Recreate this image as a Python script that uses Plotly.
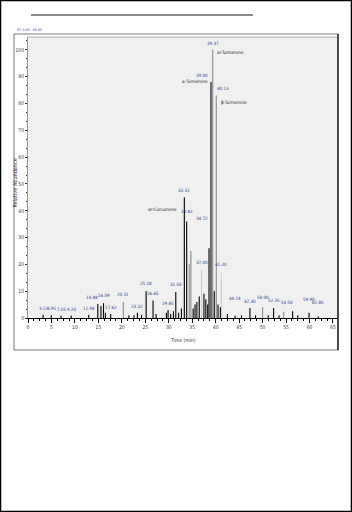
import plotly.graph_objects as go

# ---------------- data ----------------
black_rt = [3.22, 4.95, 7.05, 9.20, 12.94, 14.88, 15.55, 16.09, 16.50, 17.62, 21.50, 22.60,
            23.32, 24.20, 25.18, 26.65, 27.30, 29.50, 29.85, 30.40, 31.00, 31.50, 32.10,
            32.70, 33.32, 33.82, 35.20, 35.60, 36.00, 36.50, 37.50, 37.90, 38.30, 38.58,
            39.00, 39.70, 40.50, 41.00, 42.50, 44.14, 45.50, 47.30, 48.50, 51.20, 52.35,
            53.50, 56.40, 57.50, 59.90, 61.85]
black_h = [1.2, 1.0, 0.8, 0.9, 1.2, 5.2, 4.5, 5.5, 2.0, 1.5, 1.0, 1.0,
           2.0, 1.2, 10.0, 6.5, 1.5, 2.0, 3.0, 1.5, 2.5, 9.7, 2.0,
           3.5, 45.0, 36.0, 3.5, 5.0, 6.0, 8.0, 9.0, 7.0, 5.0, 26.0,
           88.0, 10.0, 5.0, 4.0, 1.5, 0.8, 1.0, 3.7, 1.0, 1.0, 3.7,
           1.0, 2.5, 1.0, 2.0, 0.6]
gray_rt = [20.31, 34.35, 34.72, 39.37, 40.13, 50.00, 54.50]
gray_h = [6.0, 20.0, 25.0, 100.0, 83.0, 4.0, 2.3]
light_rt = [37.00, 41.20]
light_h = [18.0, 17.0]

label_rt = [3.22, 4.95, 7.05, 9.20, 12.94, 14.88, 16.09, 17.62, 20.31, 23.32, 25.18,
            26.65, 29.85, 31.50, 33.82, 34.72, 37.00, 41.20, 44.14, 47.30, 50.00,
            52.35, 54.50, 59.90, 61.85]
label_h = [1.2, 1.0, 0.8, 0.9, 1.2, 5.2, 5.5, 1.5, 6.0, 2.0, 10.0,
           6.5, 3.0, 9.7, 36.0, 25.0, 18.0, 17.0, 0.8, 3.7, 4.0,
           3.7, 2.3, 2.0, 0.6]

name_rt = [33.32, 39.00, 39.37, 40.13]
name_h = [45.0, 88.0, 100.0, 83.0]
name_text = ["ar-Curcumene", "α-Turmerone", "ar-Turmerone", "β-Turmerone"]

x_ticks = list(range(0, 70, 5))
y_ticks = list(range(0, 110, 10))


def sticks(rts, hs):
    xs, ys = [], []
    for t, h in zip(rts, hs):
        xs += [t, t, None]
        ys += [0, h, None]
    return xs, ys


fig = go.Figure()
for rts, hs, col, w in [(light_rt, light_h, "#c9c9c9", 1),
                        (gray_rt, gray_h, "#8a8a8a", 1.1),
                        (black_rt, black_h, "#000000", 1.1)]:
    xs, ys = sticks(rts, hs)
    fig.add_trace(go.Scatter(x=xs, y=ys, mode="lines",
                             line=dict(color=col, width=w), hoverinfo="skip",
                             showlegend=False))

FAM = "Liberation Sans Narrow, DejaVu Sans Condensed, Liberation Sans, Arial"
lab_font = dict(family=FAM, size=4.5, color="#1d3b8c")
name_font = dict(family=FAM, size=4.5, color="#222222")

ann = []
# label lifts (pixels) for labels that float above their peaks
lift = {14.88: 1, 16.09: 2, 20.31: 2, 25.18: 2, 26.65: 2, 31.50: 2,
        33.82: 4, 34.72: 27, 37.00: 2, 41.20: 2, 44.14: 12, 50.00: 4,
        52.35: 2, 54.50: 4, 59.90: 8, 61.85: 8, 12.94: 1}
xoff = {34.72: 11, 14.88: -6, 16.09: 1, 54.50: 3}
for t, h in zip(label_rt, label_h):
    ann.append(dict(x=t, y=h, text=f"{t:.2f}", showarrow=False, xanchor="center",
                    yanchor="bottom", yshift=1 + lift.get(t, 1), xshift=xoff.get(t, 0),
                    font=lab_font))

# main peaks: retention times + compound names
main = [
    # rt label (xanchor, xshift, yshift), name (xanchor, xshift, yshift)
    ("center", 0, 2, "right", -5, -12),
    ("right", -1, 2, "right", -1, 1),
    ("center", 0, 2, "left", 2, -3),
    ("left", -1, 2, "left", 3, -7),
]
for (t, h, nm), (ra, rx, ry, na, nx, ny) in zip(zip(name_rt, name_h, name_text), main):
    ann.append(dict(x=t, y=h, text=f"{t:.2f}", showarrow=False, xanchor=ra, xshift=rx,
                    yanchor="bottom", yshift=ry, font=lab_font))
    ann.append(dict(x=t, y=h, text=nm, showarrow=False, xanchor=na, xshift=nx,
                    yanchor="middle", yshift=ny, font=name_font))

ann.append(dict(xref="paper", yref="paper", x=-0.043, y=1.012, xanchor="left", yanchor="bottom",
                text="RT: 0.00 - 65.00", showarrow=False,
                font=dict(family=FAM, size=3.5, color="#3a3aa0")))
# axis titles
ann.append(dict(xref="paper", yref="paper", x=-0.0405, y=0.48, xanchor="center", yanchor="middle",
                text="Relative Abundance", textangle=-90, showarrow=False,
                font=dict(family=FAM, size=5.5, color="#3a2a40")))
ann.append(dict(xref="paper", yref="paper", x=0.50, y=-0.0783, xanchor="center", yanchor="middle",
                text="Time (min)", showarrow=False,
                font=dict(family=FAM, size=5, color="#2a2a40")))

fig.update_layout(
    width=352, height=512,
    margin=dict(l=28, r=15, t=37, b=194),
    paper_bgcolor="white", plot_bgcolor="#f0f0f0",
    annotations=ann,
    font=dict(family=FAM, size=5, color="#333"),
    xaxis=dict(range=[0, 65.86], tickvals=x_ticks, ticktext=[str(v) for v in x_ticks],
               showgrid=False, zeroline=False, showline=True, linecolor="#000", linewidth=1,
               ticks="outside", ticklen=4, tickcolor="#000", tickfont=dict(size=5),
               minor=dict(dtick=1.25, ticks="outside", ticklen=2, tickcolor="#000")),
    yaxis=dict(range=[0, 104.8], tickvals=y_ticks, ticktext=[str(v) for v in y_ticks],
               showgrid=False, zeroline=False, showline=True, linecolor="#999", linewidth=1,
               ticks="outside", ticklen=2, tickcolor="#333", tickfont=dict(size=5),
               minor=dict(dtick=10 / 3, ticks="outside", ticklen=1, tickcolor="#333")),
    shapes=[
        dict(type="rect", xref="paper", yref="paper", x0=-0.0890, x1=1.0469, y0=-0.6886, y1=1.1299,
             line=dict(color="#000", width=1.5), layer="below"),
        dict(type="rect", xref="paper", yref="paper", x0=-0.0453, x1=1.0032, y0=-0.1139, y1=1.0107,
             line=dict(color="#777", width=1), layer="below"),
        dict(type="line", xref="paper", yref="paper", x0=1.0032, x1=1.0032, y0=-0.1139, y1=1.0107,
             line=dict(color="#000", width=1.2)),
        dict(type="line", xref="paper", yref="paper", x0=0.0, x1=1.0, y0=1.0, y1=1.0,
             line=dict(color="#aaa", width=1)),
        dict(type="line", xref="paper", yref="paper", x0=0.0097, x1=0.7282, y0=1.0783, y1=1.0783,
             line=dict(color="#666", width=1.5)),
    ],
)

fig.write_html("out.html")
